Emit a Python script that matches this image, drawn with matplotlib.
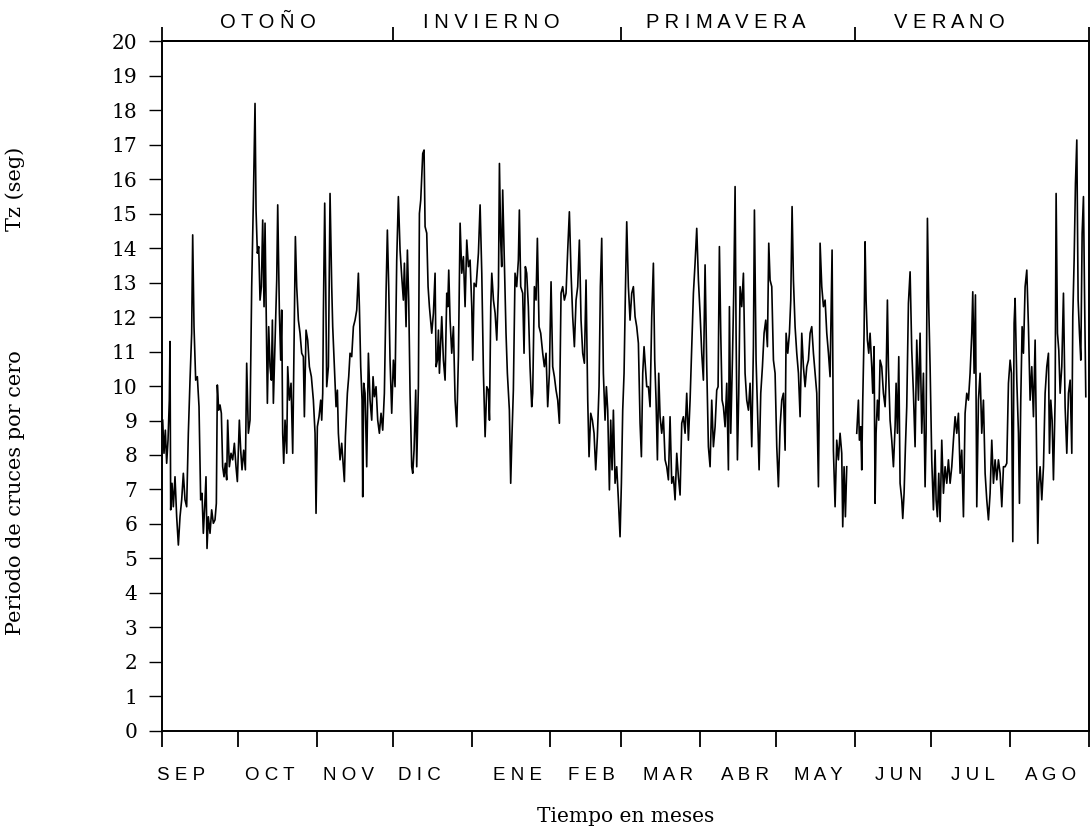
"""Periodo de cruces por cero (Tz) a lo largo de un año, sep -> ago."""

import numpy as np
import matplotlib
matplotlib.use("Agg")
import matplotlib.pyplot as plt
import matplotlib.transforms as mtransforms

# ── Data: days since 1 Sep, Tz in seconds ────────────────────────────────────
days = [
    0.46, 0.98, 1.51, 2.03, 2.56, 3.08, 3.34, 3.61, 4.13, 4.65,
    5.31, 5.97, 6.63, 7.28, 7.94, 8.59, 9.25, 9.90, 10.56, 11.22,
    11.87, 12.27, 12.79, 13.45, 14.10, 14.76, 15.41, 15.94, 16.46, 16.99,
    17.51, 17.91, 18.43, 19.09, 19.74, 20.40, 21.05, 21.58, 21.97, 22.50,
    23.02, 23.55, 24.07, 24.60, 25.12, 25.65, 26.04, 26.70, 27.35, 28.01,
    28.67, 29.32, 29.85, 30.63, 31.16, 31.68, 32.34, 33.00, 33.52, 34.18,
    34.83, 35.49, 36.15, 36.80, 37.20, 37.72, 38.25, 38.77, 39.30, 39.82,
    40.35, 40.74, 41.40, 41.66, 42.18, 42.71, 43.23, 43.63, 44.02, 44.68,
    45.34, 45.73, 46.39, 46.91, 47.30, 47.69, 48.09, 48.61, 49.27, 49.66,
    50.31, 50.97, 51.63, 52.15, 52.68, 53.20, 53.86, 54.51, 55.17, 55.82,
    56.22, 56.88, 57.53, 58.19, 58.97, 59.76, 60.42, 60.81, 61.33, 61.99,
    62.65, 63.04, 63.44, 63.70, 64.22, 64.62, 65.01, 65.67, 66.32, 66.98,
    67.37, 68.03, 68.68, 69.21, 69.60, 70.26, 70.91, 71.57, 71.96, 72.36,
    73.14, 73.67, 74.19, 74.85, 75.51, 76.16, 76.82, 77.47, 77.87, 78.39,
    78.92, 79.18, 79.57, 80.10, 80.75, 81.41, 82.06, 82.72, 83.24, 83.77,
    84.42, 85.08, 85.74, 86.39, 87.05, 87.70, 88.36, 88.88, 89.41, 89.93,
    90.59, 91.25, 91.90, 92.56, 93.21, 93.87, 94.53, 95.18, 95.58, 96.23,
    96.76, 97.28, 97.81, 98.46, 98.86, 99.38, 100.04, 100.43, 101.09, 101.49,
    102.01, 102.40, 102.80, 103.32, 103.72, 104.37, 104.90, 105.42, 106.34, 107.00,
    107.65, 108.05, 108.57, 108.97, 109.36, 110.28, 110.93, 111.59, 112.25, 112.64,
    113.03, 113.56, 114.21, 114.87, 115.53, 116.18, 116.84, 117.50, 118.15, 118.81,
    119.46, 120.12, 120.78, 121.43, 122.09, 122.48, 123.01, 123.80, 124.71, 125.37,
    126.03, 126.68, 127.34, 128.00, 128.65, 129.05, 129.57, 129.97, 130.62, 131.28,
    131.93, 132.59, 132.98, 133.47, 133.87, 134.26, 134.79, 135.57, 136.10, 136.89,
    137.41, 137.94, 138.46, 139.12, 139.77, 140.43, 140.82, 141.35, 142.13, 142.66,
    143.18, 143.71, 144.36, 145.02, 145.68, 146.07, 146.73, 147.38, 147.91, 148.56,
    149.22, 150.01, 150.66, 151.32, 151.97, 152.63, 153.29, 153.94, 154.60, 155.25,
    155.91, 156.57, 157.22, 157.88, 158.53, 159.19, 159.85, 160.50, 161.16, 161.81,
    162.47, 163.13, 163.78, 164.44, 165.09, 165.75, 166.41, 167.06, 167.72, 168.24,
    168.90, 169.55, 170.21, 170.87, 171.52, 172.18, 172.70, 173.23, 173.88, 174.54,
    175.06, 175.59, 176.25, 176.77, 177.30, 177.82, 178.48, 179.13, 179.79, 180.44,
    180.97, 181.49, 182.02, 182.54, 183.07, 183.72, 184.38, 185.04, 185.69, 186.35,
    187.00, 187.66, 188.32, 188.84, 189.37, 189.89, 190.42, 190.94, 191.60, 192.25,
    192.91, 193.56, 194.09, 194.61, 195.14, 195.66, 196.19, 196.84, 197.50, 198.16,
    198.81, 199.47, 200.12, 200.78, 201.44, 202.09, 202.75, 203.40, 204.06, 204.72,
    205.37, 206.03, 206.68, 207.34, 208.00, 208.65, 209.31, 209.96, 210.62, 211.28,
    211.93, 212.59, 213.24, 213.90, 214.56, 215.21, 215.87, 216.52, 217.18, 217.84,
    218.49, 219.02, 219.54, 220.07, 220.59, 221.12, 221.77, 222.43, 223.08, 223.48,
    224.00, 224.66, 225.18, 225.71, 226.10, 226.63, 227.15, 227.68, 228.33, 228.99,
    229.64, 230.30, 230.96, 231.61, 232.27, 232.92, 233.32, 233.97, 234.50, 235.16,
    235.81, 236.47, 237.12, 237.78, 238.43, 238.96, 239.48, 240.14, 240.80, 241.45,
    242.11, 242.76, 243.42, 244.08, 244.73, 245.39, 245.78, 246.44, 247.09, 247.62,
    248.14, 248.67, 249.32, 249.98, 250.64, 251.29, 251.95, 252.60, 253.26, 253.92,
    254.57, 255.23, 255.88, 256.54, 257.20, 257.85, 258.51, 258.90, 259.16, 259.82,
    260.48, 261.13, 261.79, 262.45, 263.09, 263.88, 264.40, 265.06, 265.71, 266.37,
    267.02, 267.68, 268.07, 268.60, 269.12, 269.65, 271.50, 273.58, 274.24, 274.63,
    275.16, 275.55, 275.95, 276.47, 276.86, 277.26, 277.78, 278.31, 278.83, 279.49,
    279.88, 280.41, 280.80, 281.19, 281.72, 282.24, 282.77, 283.42, 284.08, 284.74,
    285.13, 285.65, 286.05, 286.70, 287.36, 288.02, 288.67, 289.07, 289.59, 290.12,
    290.64, 291.30, 291.69, 292.21, 292.74, 293.26, 293.92, 294.58, 295.23, 295.89,
    296.54, 297.20, 297.86, 298.51, 299.17, 299.82, 300.48, 300.87, 301.40, 301.92,
    302.45, 303.10, 303.76, 304.42, 304.81, 305.33, 305.86, 306.38, 307.04, 307.70,
    308.35, 309.01, 309.66, 310.32, 310.98, 311.63, 312.29, 312.94, 313.60, 314.26,
    314.91, 315.57, 316.22, 316.88, 317.54, 318.19, 318.85, 319.24, 319.77, 320.29,
    320.82, 321.47, 322.13, 322.78, 323.44, 324.10, 324.75, 325.41, 326.06, 326.72,
    327.38, 328.03, 328.69, 329.34, 330.00, 330.66, 331.31, 331.97, 332.62, 333.28,
    333.94, 334.46, 334.99, 335.51, 335.90, 336.56, 337.22, 337.61, 338.13, 338.66,
    339.18, 339.84, 340.50, 341.15, 341.81, 342.46, 343.12, 343.78, 344.43, 344.83,
    345.22, 345.74, 346.40, 347.06, 347.71, 348.37, 349.02, 349.42, 349.94, 350.47,
    350.99, 351.65, 352.04, 352.57, 353.09, 353.62, 354.27, 354.93, 355.58, 356.24,
    356.90, 357.55, 358.21, 358.60, 359.13, 359.65, 360.18, 360.70, 361.23, 361.75,
    362.28, 362.80, 363.19, 363.72,
]

tz = [
    9.01, 8.05, 8.72, 7.76, 8.43, 9.59, 11.29, 6.41, 7.18, 6.50,
    7.37, 6.21, 5.39, 6.21, 6.70, 7.47, 6.70, 6.50, 8.63, 10.17,
    11.53, 14.38, 11.72, 10.17, 10.27, 9.40, 6.70, 6.89, 5.73, 6.50,
    7.37, 5.29, 6.21, 5.73, 6.41, 6.02, 6.12, 6.60, 10.03, 9.30,
    9.45, 9.21, 7.66, 7.37, 7.76, 7.28, 9.01, 7.66, 8.05, 7.86,
    8.34, 7.66, 7.23, 9.01, 8.14, 7.57, 8.14, 7.57, 10.66, 8.63,
    9.01, 12.88, 15.39, 18.19, 15.10, 13.85, 14.04, 12.49, 12.88, 14.81,
    12.30, 14.72, 11.14, 9.50, 11.72, 10.56, 10.17, 11.91, 9.50, 11.33,
    13.07, 15.25, 12.11, 10.75, 12.20, 8.63, 7.76, 9.01, 8.05, 10.56,
    9.59, 10.08, 8.05, 11.04, 14.33, 12.88, 11.91, 11.53, 10.95, 10.85,
    9.11, 11.62, 11.33, 10.56, 10.27, 9.59, 8.63, 6.31, 8.82, 9.11,
    9.59, 9.01, 9.79, 12.11, 15.30, 12.88, 9.98, 10.56, 15.58, 12.88,
    11.72, 10.56, 9.40, 9.88, 8.63, 7.86, 8.34, 7.66, 7.23, 8.53,
    9.79, 10.27, 10.95, 10.85, 11.72, 11.91, 12.20, 13.27, 12.30, 10.56,
    9.59, 6.79, 10.08, 9.79, 7.66, 10.95, 9.59, 9.01, 10.27, 9.69,
    9.98, 9.01, 8.63, 9.21, 8.72, 9.79, 12.69, 14.52, 12.88, 10.75,
    9.21, 10.75, 9.98, 13.65, 15.49, 13.94, 13.17, 12.49, 13.56, 11.72,
    13.94, 12.49, 9.79, 7.66, 7.47, 8.14, 9.88, 7.66, 9.98, 15.00,
    15.39, 16.07, 16.74, 16.84, 14.62, 14.43, 12.88, 12.30, 11.53, 12.11,
    13.27, 10.56, 10.75, 11.62, 10.37, 12.01, 10.75, 10.17, 12.69, 12.30,
    13.36, 11.91, 10.95, 11.72, 9.59, 8.82, 10.85, 14.72, 13.27, 13.75,
    12.30, 14.23, 13.46, 13.65, 12.30, 10.75, 12.98, 12.88, 13.85, 15.25,
    13.27, 10.37, 8.53, 9.98, 9.88, 9.01, 12.30, 13.27, 12.49, 12.11,
    11.33, 12.88, 16.45, 14.23, 13.46, 15.68, 14.04, 11.53, 10.37, 9.30,
    7.18, 8.63, 9.88, 13.27, 12.88, 13.65, 15.10, 12.88, 12.69, 10.95,
    13.46, 13.27, 12.30, 10.56, 9.40, 9.79, 12.88, 12.49, 14.28, 11.72,
    11.53, 10.95, 10.56, 10.95, 9.40, 10.37, 13.02, 10.56, 10.27, 9.88,
    9.59, 8.92, 12.69, 12.88, 12.49, 12.69, 13.94, 15.05, 13.27, 12.01,
    11.14, 12.49, 12.88, 14.23, 11.91, 10.95, 10.66, 13.07, 9.59, 7.95,
    9.21, 9.01, 8.63, 7.57, 8.53, 9.98, 12.88, 14.28, 10.37, 9.01,
    9.98, 9.30, 6.99, 9.01, 7.57, 9.30, 7.18, 7.66, 6.70, 5.63,
    7.18, 9.30, 10.37, 12.69, 14.76, 12.88, 11.91, 12.69, 12.88, 12.01,
    11.72, 11.24, 8.92, 7.95, 10.37, 11.14, 10.56, 9.98, 9.98, 9.40,
    12.01, 13.56, 10.75, 9.59, 7.86, 10.37, 9.11, 8.63, 9.11, 7.86,
    7.66, 7.28, 9.11, 7.18, 7.37, 6.70, 8.05, 7.37, 6.84, 8.92,
    9.11, 8.63, 9.79, 8.43, 9.59, 11.14, 12.69, 13.56, 14.57, 13.07,
    12.11, 10.95, 10.17, 13.51, 10.56, 8.24, 7.66, 9.59, 8.24, 8.82,
    9.88, 9.98, 14.04, 11.53, 9.59, 9.40, 8.82, 10.08, 7.57, 12.30,
    8.63, 10.75, 12.69, 15.78, 11.53, 7.86, 9.79, 12.88, 12.30, 13.27,
    10.37, 9.59, 9.30, 10.08, 8.24, 11.14, 15.10, 10.75, 9.40, 7.57,
    9.79, 10.56, 11.53, 11.91, 11.14, 14.14, 13.07, 12.88, 10.75, 10.37,
    8.24, 7.08, 8.82, 9.59, 9.79, 8.14, 11.53, 10.95, 11.53, 12.49,
    15.20, 13.07, 11.72, 10.95, 10.37, 9.11, 11.53, 10.56, 9.98, 10.56,
    10.75, 11.53, 11.72, 10.95, 10.37, 9.79, 7.08, 10.17, 14.14, 12.88,
    12.30, 12.49, 11.53, 10.95, 10.27, 13.94, 8.14, 6.50, 8.43, 7.86,
    8.63, 8.05, 5.92, 7.66, 6.21, 7.66, np.nan, 8.63, 9.59, 8.43,
    8.82, 7.57, 9.59, 11.53, 14.18, 12.49, 11.33, 10.95, 11.53, 10.56,
    9.79, 11.14, 6.60, 8.63, 9.59, 9.01, 10.75, 10.56, 9.79, 9.40,
    10.17, 12.49, 10.56, 9.01, 8.43, 7.66, 8.82, 10.08, 8.63, 10.85,
    7.18, 6.70, 6.16, 6.89, 8.24, 9.40, 12.40, 13.31, 11.04, 9.79,
    8.24, 11.33, 9.59, 11.53, 8.63, 10.37, 7.08, 8.63, 14.86, 12.30,
    10.56, 7.86, 6.41, 8.14, 6.70, 6.21, 7.47, 6.07, 8.43, 6.89,
    7.66, 7.18, 7.86, 7.18, 7.66, 8.43, 9.11, 8.63, 9.21, 7.47,
    8.14, 6.21, 9.21, 9.79, 9.59, 10.37, 11.53, 12.73, 10.37, 12.64,
    6.50, 9.59, 10.37, 8.63, 9.59, 7.47, 6.70, 6.12, 6.89, 8.43,
    7.18, 7.86, 7.28, 7.86, 7.47, 6.50, 7.66, 7.66, 7.76, 10.08,
    10.75, 10.37, 5.49, 11.82, 12.54, 10.17, 8.63, 6.60, 9.59, 11.72,
    10.95, 12.88, 13.36, 11.72, 9.59, 10.56, 9.11, 11.33, 7.66, 5.44,
    7.18, 7.66, 6.70, 7.66, 9.79, 10.56, 10.95, 8.05, 9.59, 9.01,
    7.28, 9.59, 15.58, 11.53, 11.04, 9.79, 10.56, 12.69, 9.40, 8.05,
    9.79, 10.17, 8.05, 12.01, 13.65, 15.87, 17.13, 12.49, 11.53, 10.75,
    14.42, 15.49, 12.88, 9.69,
]

# ── Axis annotation ──────────────────────────────────────────────────────────
month_starts = [0, 30, 61, 91, 122, 153, 181, 212, 242, 273, 303, 334, 365]
month_names = ["SEP", "OCT", "NOV", "DIC", "ENE", "FEB",
               "MAR", "ABR", "MAY", "JUN", "JUL", "AGO"]
month_label_days = [7.7, 42.7, 73.4, 101.3, 139.9, 169.0,
                    199.3, 229.6, 258.4, 289.9, 319.4, 349.7]

season_starts = [0, 91, 181, 273, 365]
season_names = ["OTOÑO", "INVIERNO", "PRIMAVERA", "VERANO"]
season_label_days = [42.0, 129.6, 222.0, 310.0]

y_ticks = list(range(0, 21))

SERIF = "DejaVu Serif"
SANS = "Liberation Sans"


def spaced(word):
    """Letter-spaced capitals, as in the lettering of the original."""
    return " ".join(word)


def main():
    assert len(days) == len(tz)

    fig = plt.figure(figsize=(10.92, 8.27), dpi=100)
    ax = fig.add_axes([0.1479, 0.1161, 0.8494, 0.8343])

    ax.plot(days, tz, color="black", linewidth=1.2)

    ax.set_xlim(0, 365)
    ax.set_ylim(0, 20)

    for side in ("left", "right", "top", "bottom"):
        ax.spines[side].set_linewidth(1.4)

    # y axis
    ax.set_yticks(y_ticks)
    ax.set_yticklabels([str(v) for v in y_ticks], family=SERIF, fontsize=14.5)
    ax.tick_params(axis="y", direction="out", length=9.5, width=1.0, pad=8)

    # x axis: ticks at month boundaries, names between them
    ax.set_xticks(month_starts)
    ax.set_xticklabels([])
    ax.set_xticks(month_label_days, minor=True)
    ax.set_xticklabels([spaced(m) for m in month_names], minor=True,
                       family=SANS, fontsize=13.5)
    ax.tick_params(axis="x", which="major", direction="out", length=11.5, width=1.3)
    ax.tick_params(axis="x", which="minor", length=0, pad=26)

    ax.set_xlabel("Tiempo en meses", family=SERIF, fontsize=14.5)
    ax.xaxis.set_label_coords(0.5, -0.11)

    fig.text(15 / 1092, 0.5278,
             "Periodo de cruces por cero" + " " * 18 + "Tz (seg)",
             rotation=90, ha="center", va="center", family=SERIF, fontsize=15)

    # seasons on top
    top = ax.secondary_xaxis("top")
    top.set_xticks(season_starts)
    top.set_xticklabels([])
    top.tick_params(direction="out", length=10, width=1.3)
    top.spines["top"].set_linewidth(1.4)

    trans = mtransforms.blended_transform_factory(ax.transData, ax.transAxes)
    for name, d in zip(season_names, season_label_days):
        ax.text(d, 1.0275, spaced(name), transform=trans, ha="center", va="center",
                family=SANS, fontsize=14.5)

    fig.savefig("out.png", dpi=100, facecolor="white")


if __name__ == "__main__":
    main()
